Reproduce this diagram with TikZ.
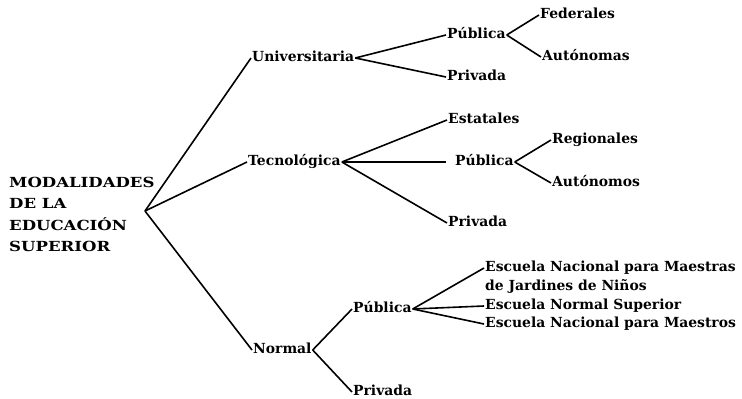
\documentclass[tikz,border=0pt]{standalone}
\usepackage{fontspec}
\setmainfont{DejaVu Serif}
\newfontfamily\capsfont[FakeStretch=1.19]{DejaVu Serif}

\begin{document}
\begin{tikzpicture}[x=1pt, y=-1pt, font=\fontsize{13.9}{16}\selectfont\bfseries]

  \tikzstyle{item}=[anchor=west,
    inner xsep=1pt, inner ysep=0pt,
    text height=10pt, text depth=2.8pt]
  \tikzstyle{branch}=[black, line width=1.6pt]

  \useasboundingbox (0,0) rectangle (742,399);

  \node [anchor=north west, align=left, inner sep=0pt,
    font=\capsfont\bfseries\fontsize{13.9}{21.3}\selectfont]
    (title) at (9,177) {MODALIDADES\\DE LA\\EDUCACIÓN\\SUPERIOR};
  \coordinate (root) at (145,211);

  \node [item] (univ) at (251,58) {Universitaria};
  \node [item] (upub) at (446,35) {Pública};
  \node [item] (fed) at (539,15) {Federales};
  \node [item] (uaut) at (541,57) {Autónomas};
  \node [item] (upriv) at (446,77) {Privada};

  \node [item] (tecno) at (247,162) {Tecnológica};
  \node [item] (est) at (447,120) {Estatales};
  \node [item] (tpub) at (454,162) {Pública};
  \node [item] (reg) at (551,140) {Regionales};
  \node [item] (taut) at (551,183) {Autónomos};
  \node [item] (tpriv) at (447,223) {Privada};

  \node [item] (normal) at (252,350) {Normal};
  \node [item] (npub) at (352,309) {Pública};
  \node [item] (npriv) at (352,392) {Privada};
  \node [item] (maestras) at (484,268) {Escuela Nacional para Maestras};
  \node [item] (jardines) at (484,287) {de Jardines de Niños};
  \node [item] (superior) at (484,306) {Escuela Normal Superior};
  \node [item] (maestros) at (484,324) {Escuela Nacional para Maestros};

  % first level
  \draw [branch] (root) -- (univ.west);
  \draw [branch] (root) -- (tecno.west);
  \draw [branch] (root) -- (normal.west);

  % universitaria
  \draw [branch] (univ.east) -- (upub.west);
  \draw [branch] (univ.east) -- (upriv.west);
  \draw [branch] (upub.east) -- (fed.west);
  \draw [branch] (upub.east) -- (uaut.west);

  % tecnologica
  \draw [branch] (tecno.east) -- (est.west);
  \draw [branch, shorten >=8pt] (tecno.east) -- (tpub.west);
  \draw [branch] (tecno.east) -- (tpriv.west);
  \draw [branch] (tpub.east) -- (reg.west);
  \draw [branch] (tpub.east) -- (taut.west);

  % normal
  \draw [branch] (normal.east) -- (npub.west);
  \draw [branch] (normal.east) -- (npriv.west);
  \draw [branch] (npub.east) -- (maestras.west);
  \draw [branch] (npub.east) -- (superior.west);
  \draw [branch] (npub.east) -- (maestros.west);

\end{tikzpicture}
\end{document}
